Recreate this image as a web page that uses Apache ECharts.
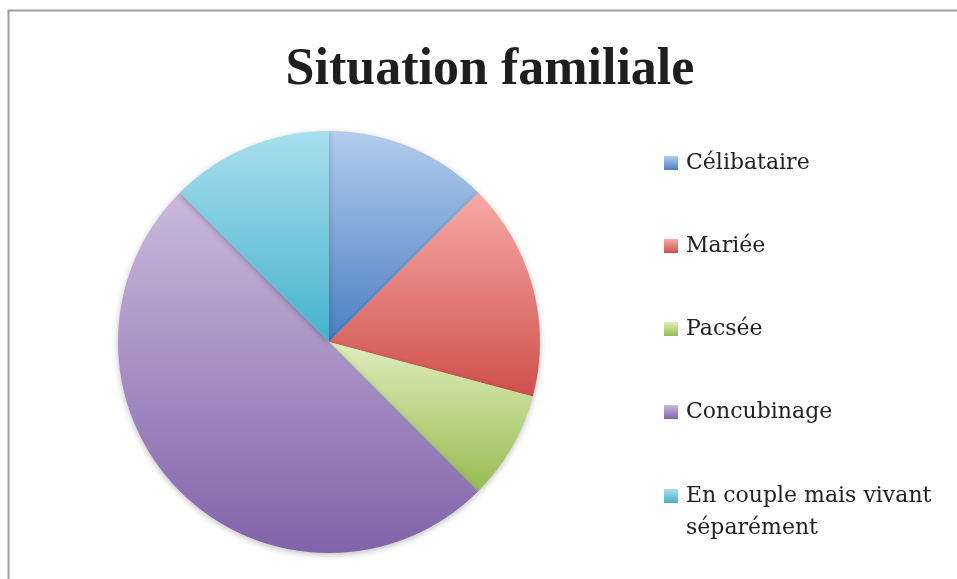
<!DOCTYPE html>
<html lang="fr">
<head>
    <meta charset="UTF-8">
    <title>Situation familiale</title>
    <script src="https://cdn.jsdelivr.net/npm/echarts@6/dist/echarts.min.js"></script>
    <style>
        html,body{margin:0;padding:0;background:#fff}
        #chart{width:957px;height:579px}
    </style>
</head>
<body>
    <div id="chart"></div>
    <script>
        var categories=['Célibataire','Mariée','Pacsée','Concubinage','En couple mais vivant séparément'];
        var values=[3,4,2,12,3];
        var legendLabels=['Célibataire','Mariée','Pacsée','Concubinage','En couple mais vivant'];
        var topColors=['#b3cdec','#f7aaa7','#deeebb','#cbb9dc','#a9dfee'];
        var bottomColors=['#4a7fc3','#cf4f4b','#98bb52','#8163a9','#45b2cc'];

        function grad(i){
            return new echarts.graphic.LinearGradient(0,0,0,1,[
                {offset:0,color:topColors[i]},
                {offset:1,color:bottomColors[i]}
            ]);
        }

        var data=categories.map(function(c,i){
            return {name:c,value:values[i],itemStyle:{color:grad(i)}};
        });

        var legendTops=[147,230,313,396,480];
        var legends=categories.map(function(c,i){
            return {
                orient:'vertical',
                left:659,
                top:legendTops[i],
                data:[c],
                icon:'rect',
                itemWidth:14,
                itemHeight:14,
                selectedMode:false,
                formatter:function(){return legendLabels[i];},
                textStyle:{fontFamily:'DejaVu Serif',fontSize:22,color:'#222',padding:[0,0,0,3]}
            };
        });

        var chart=echarts.init(document.getElementById('chart'));
        chart.setOption({
            animation:false,
            title:{
                text:'Situation familiale',
                left:485,
                textAlign:'center',
                top:40,
                textStyle:{fontFamily:'Liberation Serif',fontWeight:'bold',fontSize:52,color:'#1e1e1e'}
            },
            graphic:[{
                type:'rect',
                shape:{x:8.5,y:10.5,width:1000,height:600},
                style:{fill:'none',stroke:'#a0a0a0',lineWidth:2},
                silent:true
            },{
                type:'text',
                left:686,
                top:517,
                style:{text:'séparément',font:'22px "DejaVu Serif"',fill:'#222'},
                silent:true
            }],
            legend:legends,
            series:[{
                type:'pie',
                center:[329,342],
                radius:211,
                startAngle:90,
                clockwise:true,
                label:{show:false},
                labelLine:{show:false},
                itemStyle:{shadowBlur:6,shadowColor:'rgba(0,0,0,0.25)',shadowOffsetY:2,borderWidth:0},
                emphasis:{disabled:true},
                data:data
            }]
        });
    </script>
</body>
</html>
